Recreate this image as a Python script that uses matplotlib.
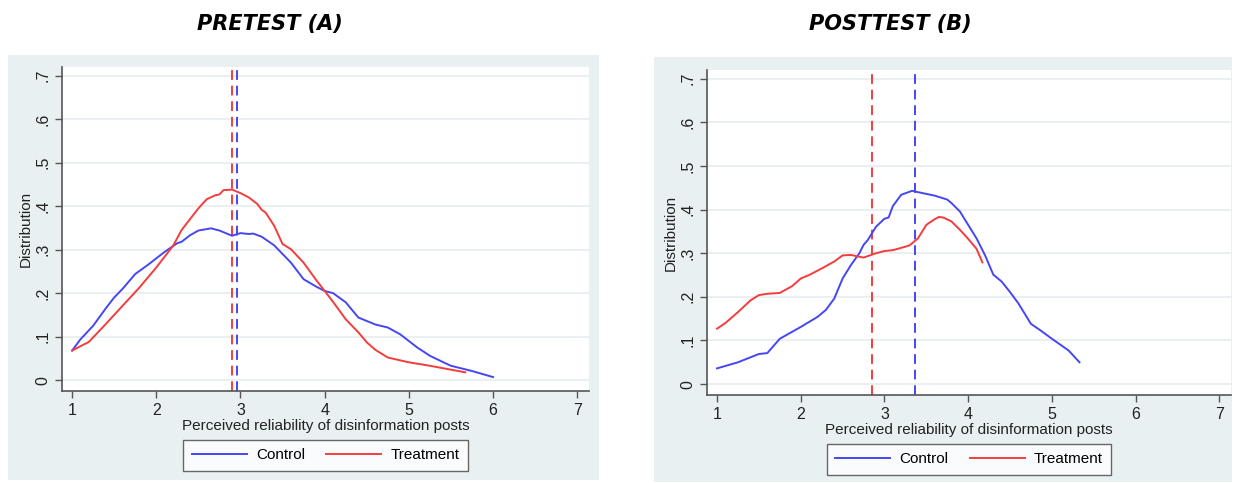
import numpy as np
import matplotlib
matplotlib.use("Agg")
from matplotlib import pyplot as plt
from matplotlib.patches import Rectangle
from matplotlib.lines import Line2D

# Panel A (pretest) curves
pre_ctrl_x = [1.0, 1.1, 1.25, 1.4, 1.5, 1.6, 1.75, 1.9, 2.0, 2.1, 2.25, 2.3, 2.4, 2.5, 2.65,
              2.75, 2.9, 3.0, 3.1, 3.15, 3.25, 3.4, 3.5, 3.6, 3.75, 3.9, 4.0, 4.1, 4.25, 4.4,
              4.5, 4.6, 4.75, 4.9, 5.0, 5.1, 5.25, 5.4, 5.5, 5.75, 6.0]
pre_ctrl_y = [0.068, 0.094, 0.125, 0.165, 0.19, 0.21, 0.244, 0.265, 0.28, 0.295, 0.315,
              0.318, 0.333, 0.344, 0.349, 0.344, 0.332, 0.338, 0.336, 0.337, 0.33, 0.31,
              0.29, 0.27, 0.232, 0.215, 0.205, 0.2, 0.179, 0.144, 0.136, 0.128, 0.121,
              0.105, 0.09, 0.075, 0.056, 0.042, 0.033, 0.021, 0.007]
pre_treat_x = [1.0, 1.2, 1.4, 1.6, 1.8, 2.0, 2.2, 2.3, 2.4, 2.5, 2.6, 2.7, 2.75, 2.8, 2.9,
               3.0, 3.1, 3.2, 3.25, 3.3, 3.4, 3.5, 3.6, 3.75, 3.9, 4.0, 4.1, 4.25, 4.4, 4.5,
               4.6, 4.75, 5.0, 5.25, 5.5, 5.67]
pre_treat_y = [0.068, 0.088, 0.129, 0.171, 0.213, 0.259, 0.309, 0.345, 0.37, 0.395, 0.416,
               0.425, 0.427, 0.437, 0.438, 0.43, 0.42, 0.405, 0.392, 0.385, 0.355, 0.313,
               0.301, 0.27, 0.23, 0.205, 0.18, 0.14, 0.11, 0.087, 0.07, 0.052, 0.041,
               0.033, 0.024, 0.018]
pre_means = {"Treatment": 2.894, "Control": 2.963}

# Panel B (posttest) curves
post_ctrl_x = [1.0, 1.25, 1.5, 1.6, 1.75, 2.0, 2.2, 2.3, 2.4, 2.5, 2.6, 2.7, 2.75, 2.8, 2.9,
               3.0, 3.05, 3.1, 3.2, 3.33, 3.4, 3.5, 3.6, 3.75, 3.8, 3.9, 4.0, 4.1, 4.2, 4.3,
               4.4, 4.5, 4.6, 4.75, 4.85, 5.0, 5.2, 5.33]
post_ctrl_y = [0.036, 0.05, 0.069, 0.071, 0.104, 0.131, 0.154, 0.17, 0.196, 0.242, 0.273,
               0.30, 0.319, 0.33, 0.361, 0.379, 0.382, 0.408, 0.434, 0.443, 0.44, 0.436,
               0.432, 0.423, 0.415, 0.396, 0.365, 0.334, 0.296, 0.251, 0.235, 0.211, 0.185,
               0.138, 0.125, 0.104, 0.077, 0.05]
post_treat_x = [1.0, 1.1, 1.25, 1.4, 1.5, 1.6, 1.75, 1.9, 2.0, 2.1, 2.25, 2.4, 2.5, 2.6,
                2.75, 2.9, 3.0, 3.1, 3.25, 3.3, 3.4, 3.5, 3.6, 3.65, 3.7, 3.8, 3.9, 4.0,
                4.1, 4.17]
post_treat_y = [0.127, 0.14, 0.165, 0.192, 0.204, 0.207, 0.209, 0.225, 0.242, 0.25, 0.265,
                0.281, 0.295, 0.296, 0.29, 0.30, 0.305, 0.307, 0.315, 0.318, 0.334, 0.365,
                0.378, 0.383, 0.382, 0.373, 0.354, 0.333, 0.31, 0.279]
post_means = {"Treatment": 2.849, "Control": 3.364}

x_ticks = [1, 2, 3, 4, 5, 6, 7]
y_ticks = [0, 0.1, 0.2, 0.3, 0.4, 0.5, 0.6, 0.7]
y_labels = ["0", ".1", ".2", ".3", ".4", ".5", ".6", ".7"]

BLUE = "#4646f5"
RED = "#f53c3c"
BG = "#e9f0f2"
GRID = "#e6eef0"
AXC = "#555555"

plt.rcParams['font.family'] = ['Liberation Sans', 'DejaVu Sans']

fig = plt.figure(figsize=(12.35, 4.83), dpi=100)
W, H = 1235, 483

def px_box(x0, y0, x1, y1):
    return [x0 / W, 1 - y1 / H, (x1 - x0) / W, (y1 - y0) / H]

# gray panel backgrounds
for x0, y0, x1, y1 in [(8, 55, 599, 480), (654, 57, 1232, 482)]:
    b = px_box(x0, y0, x1, y1)
    fig.patches.append(Rectangle((b[0], b[1]), b[2], b[3], transform=fig.transFigure,
                                 facecolor=BG, edgecolor="none", zorder=-5))

panels = [
    ("PRETEST (A)", px_box(62, 67, 589, 391), pre_ctrl_x, pre_ctrl_y, pre_treat_x, pre_treat_y,
     pre_means, 270),
    ("POSTTEST (B)", px_box(707, 70, 1231, 395), post_ctrl_x, post_ctrl_y, post_treat_x,
     post_treat_y, post_means, 890),
]

for title, box, cx, cy, tx, ty, means, tx_pos in panels:
    ax = fig.add_axes(box)
    ax.set_zorder(2)
    ax.set_facecolor("white")
    for yv in y_ticks:
        ax.axhline(yv, color=GRID, lw=1.2, zorder=1)
    ax.plot(cx, cy, color=BLUE, lw=1.4, zorder=3)
    ax.plot(tx, ty, color=RED, lw=1.4, zorder=3)
    ax.axvline(means["Treatment"], color=RED, lw=1.4, ls=(0, (5, 3)), zorder=2)
    ax.axvline(means["Control"], color=BLUE, lw=1.4, ls=(0, (5, 3)), zorder=2)
    ax.set_xlim(0.88, 7.14)
    ax.set_ylim(-0.025, 0.72)
    ax.set_xticks(x_ticks)
    ax.set_yticks(y_ticks)
    ax.set_yticklabels(y_labels, rotation=90, va="center")
    ax.tick_params(colors=AXC, labelcolor="#222222", labelsize=11.5, length=5, width=1)
    for s in ["top", "right"]:
        ax.spines[s].set_visible(False)
    for s in ["left", "bottom"]:
        ax.spines[s].set_color(AXC)
        ax.spines[s].set_linewidth(1.2)
    ax.set_xlabel("Perceived reliability of disinformation posts", fontsize=11,
                  color="#222222", labelpad=1)
    ax.set_ylabel("Distribution", fontsize=11, color="#222222", labelpad=2)
    handles = [Line2D([], [], color=BLUE, lw=1.4), Line2D([], [], color=RED, lw=1.4)]
    leg = ax.legend(handles, ["Control", "Treatment"], ncol=2, loc="upper center",
                    bbox_to_anchor=(0.5, -0.151), borderaxespad=0, frameon=True,
                    fancybox=False, fontsize=11, handlelength=3.6, handletextpad=0.6,
                    columnspacing=1.4, borderpad=0.55, edgecolor="#444444")
    leg.get_frame().set_linewidth(1.0)
    fig.text(tx_pos / W, 1 - 24 / H, title, ha="center", va="center",
             fontsize=15, fontweight="bold", fontstyle="italic", family="DejaVu Sans")

fig.savefig("out.png", dpi=100, facecolor="white")
